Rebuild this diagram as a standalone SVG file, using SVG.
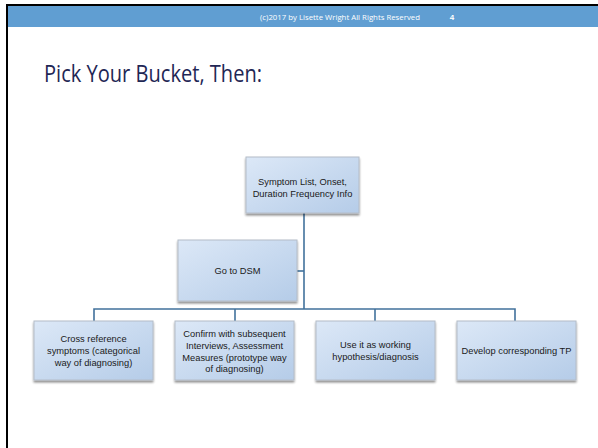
<svg xmlns="http://www.w3.org/2000/svg" width="598" height="448" viewBox="0 0 598 448">
<defs>
<linearGradient id="g" x1="0" y1="0" x2="1" y2="1">
<stop offset="0" stop-color="#dce8f7"/>
<stop offset="1" stop-color="#b5cce8"/>
</linearGradient>
<filter id="sh" x="-10%" y="-10%" width="120%" height="130%">
<feGaussianBlur in="SourceAlpha" stdDeviation="0.8"/>
<feOffset dx="0" dy="1.5"/>
<feComponentTransfer><feFuncA type="linear" slope="0.45"/></feComponentTransfer>
<feMerge><feMergeNode/><feMergeNode in="SourceGraphic"/></feMerge>
</filter>
</defs>
<style>
.box{fill:url(#g);stroke:#b4bcc8;stroke-width:1;filter:url(#sh)}
.t{font-family:"Liberation Sans",Arial,sans-serif;font-size:9.3px;fill:#1a1a1a;text-anchor:middle}
.c{fill:none;stroke:#41719c;stroke-width:1.6}
</style>
<rect x="0" y="0" width="598" height="448" fill="#ffffff"/>
<rect x="6" y="4" width="592" height="2" fill="#000"/>
<rect x="6" y="4" width="2" height="444" fill="#000"/>
<rect x="8" y="6" width="590" height="21" fill="#609ed2"/>
<text x="340" y="19.5" font-family="'Open Sans','Liberation Sans',sans-serif" font-size="7.8" fill="#ffffff" text-anchor="middle">(c)2017 by Lisette Wright All Rights Reserved</text>
<text x="452" y="19.5" font-family="'Liberation Sans',Arial,sans-serif" font-size="8" font-weight="bold" fill="#ffffff" text-anchor="middle">4</text>
<text x="44" y="82" font-family="'Open Sans','Liberation Sans',sans-serif" font-size="24" fill="#1f2755" textLength="218" lengthAdjust="spacingAndGlyphs">Pick Your Bucket, Then:</text>
<g id="connectors">
<path class="c" d="M304 213 V309"/>
<path class="c" d="M297 271 H304"/>
<path class="c" d="M94 321 V309 H515 V321"/>
<path class="c" d="M235 309 V321"/>
<path class="c" d="M375 309 V321"/>
</g>
<g id="n_symptom">
<rect class="box" x="246" y="157" width="113" height="56"/>
<text class="t" x="302.5" y="185">Symptom List, Onset,</text>
<text class="t" x="302.5" y="197">Duration Frequency Info</text>
</g>
<g id="n_dsm">
<rect class="box" x="178" y="240" width="119" height="61"/>
<text class="t" x="237.5" y="274">Go to DSM</text>
</g>
<g id="n_cross">
<rect class="box" x="34" y="321" width="119" height="59"/>
<text class="t" x="93.5" y="342">Cross reference</text>
<text class="t" x="93.5" y="354">symptoms (categorical</text>
<text class="t" x="93.5" y="366">way of diagnosing)</text>
</g>
<g id="n_confirm">
<rect class="box" x="175" y="321" width="119" height="59"/>
<text class="t" x="234.5" y="337">Confirm with subsequent</text>
<text class="t" x="234.5" y="349">Interviews, Assessment</text>
<text class="t" x="234.5" y="360.5">Measures (prototype way</text>
<text class="t" x="234.5" y="372">of diagnosing)</text>
</g>
<g id="n_use">
<rect class="box" x="316" y="321" width="119" height="59"/>
<text class="t" x="375.5" y="348">Use it as working</text>
<text class="t" x="375.5" y="360">hypothesis/diagnosis</text>
</g>
<g id="n_develop">
<rect class="box" x="457" y="321" width="119" height="59"/>
<text class="t" x="516.5" y="354">Develop corresponding TP</text>
</g>
</svg>
